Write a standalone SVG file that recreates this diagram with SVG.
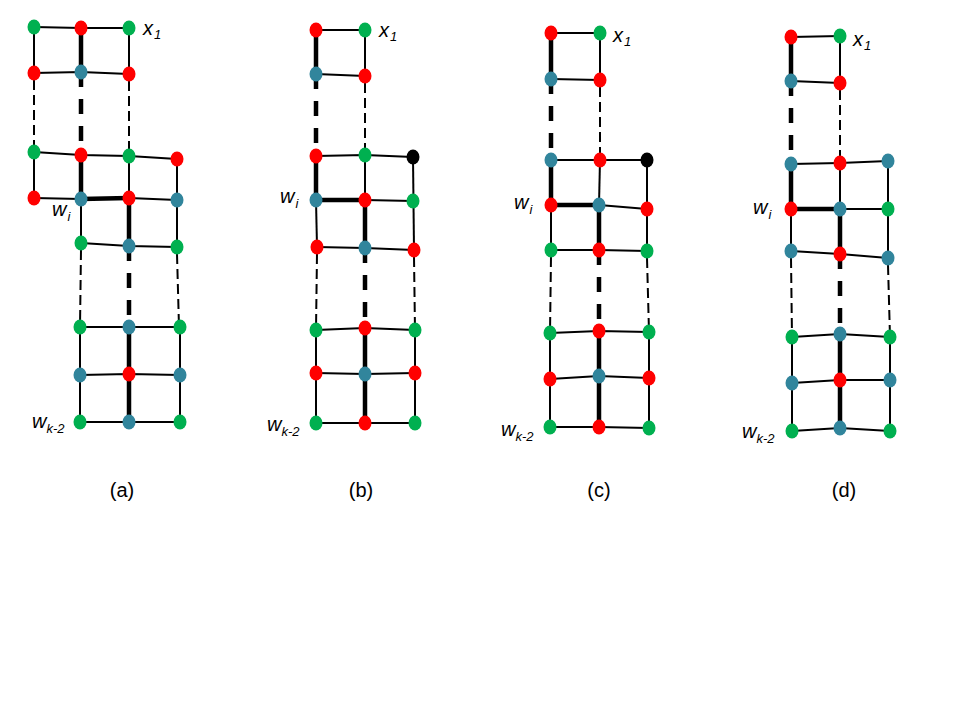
<svg xmlns="http://www.w3.org/2000/svg" width="960" height="720" viewBox="0 0 960 720">
<style>
.t{stroke:#000;stroke-width:2;fill:none}
.k{stroke:#000;stroke-width:4.5;fill:none}
.td{stroke:#000;stroke-width:2;fill:none;stroke-dasharray:10 5}
.kd{stroke:#000;stroke-width:4.5;fill:none;stroke-dasharray:15 12}
.g{fill:#00B050}
.r{fill:#FF0000}
.b{fill:#31859C}
.n{fill:#000}
ellipse{rx:6.5px;ry:7.5px}
.lab{font-family:"Liberation Sans",Arial,sans-serif;font-style:italic;font-size:20px;fill:#000}
.sub{font-size:13px}
.cap{font-family:"Liberation Sans",Arial,sans-serif;font-size:20px;fill:#000}
</style>
<rect width="960" height="720" fill="#fff"/>
<g id="connectors">
<!-- panel a -->
<polyline class="t" points="34,27 81,28 129,28"/>
<polyline class="t" points="34,73 81,72 129,74"/>
<polyline class="t" points="34,152 81,155 129,156 177,159"/>
<line class="t" x1="34" y1="198" x2="81" y2="199"/>
<line class="k" x1="81" y1="199" x2="129" y2="198"/>
<line class="t" x1="129" y1="198" x2="177" y2="200"/>
<polyline class="t" points="81,243 129,246 177,247"/>
<polyline class="t" points="80,327 129,327 180,327"/>
<polyline class="t" points="80,375 129,374 180,375"/>
<polyline class="t" points="80,422 129,422 180,422"/>
<line class="t" x1="34" y1="27" x2="34" y2="73"/>
<line class="k" x1="81" y1="28" x2="81" y2="72"/>
<line class="t" x1="129" y1="28" x2="129" y2="74"/>
<line class="td" x1="34" y1="80" x2="34" y2="152"/>
<line class="kd" x1="81" y1="72" x2="81" y2="155"/>
<line class="td" x1="129" y1="81" x2="129" y2="156"/>
<line class="t" x1="34" y1="152" x2="34" y2="198"/>
<line class="k" x1="81" y1="155" x2="81" y2="199"/>
<line class="t" x1="129" y1="156" x2="129" y2="198"/>
<line class="t" x1="177" y1="159" x2="177" y2="247"/>
<line class="t" x1="81" y1="199" x2="81" y2="243"/>
<line class="k" x1="129" y1="198" x2="129" y2="246"/>
<line class="td" x1="81" y1="250" x2="80" y2="327"/>
<line class="kd" x1="129" y1="246" x2="129" y2="327"/>
<line class="td" x1="177" y1="254" x2="179" y2="327"/>
<line class="t" x1="80" y1="327" x2="80" y2="422"/>
<line class="k" x1="129" y1="327" x2="129" y2="422"/>
<line class="t" x1="180" y1="327" x2="180" y2="422"/>
<!-- panel b -->
<line class="t" x1="316" y1="30" x2="365" y2="30"/>
<line class="t" x1="316" y1="74" x2="365" y2="76"/>
<polyline class="t" points="316,156 365,155 413,157"/>
<line class="k" x1="316" y1="200" x2="365" y2="200"/>
<line class="t" x1="365" y1="200" x2="413" y2="201"/>
<polyline class="t" points="317,247 365,248 414,250"/>
<polyline class="t" points="316,330 365,328 415,330"/>
<polyline class="t" points="316,373 365,374 415,373"/>
<polyline class="t" points="316,423 365,423 415,423"/>
<line class="k" x1="316" y1="30" x2="316" y2="74"/>
<line class="t" x1="365" y1="30" x2="365" y2="76"/>
<line class="kd" x1="316" y1="74" x2="316" y2="156"/>
<line class="td" x1="365" y1="83" x2="365" y2="155"/>
<line class="k" x1="316" y1="156" x2="316" y2="200"/>
<line class="t" x1="365" y1="155" x2="365" y2="200"/>
<line class="t" x1="413" y1="157" x2="414" y2="250"/>
<line class="t" x1="316" y1="200" x2="317" y2="247"/>
<line class="k" x1="365" y1="200" x2="365" y2="248"/>
<line class="td" x1="317" y1="254" x2="316" y2="330"/>
<line class="kd" x1="365" y1="248" x2="365" y2="328"/>
<line class="td" x1="414" y1="257" x2="415" y2="330"/>
<line class="t" x1="316" y1="330" x2="316" y2="423"/>
<line class="k" x1="365" y1="328" x2="365" y2="423"/>
<line class="t" x1="415" y1="330" x2="415" y2="423"/>
<!-- panel c -->
<line class="t" x1="551" y1="33" x2="600" y2="33"/>
<line class="t" x1="551" y1="79" x2="600" y2="80"/>
<polyline class="t" points="551,160 600,160 647,160"/>
<line class="k" x1="551" y1="205" x2="599" y2="205"/>
<line class="t" x1="599" y1="205" x2="647" y2="209"/>
<polyline class="t" points="551,250 599,250 647,251"/>
<polyline class="t" points="550,333 599,331 649,332"/>
<polyline class="t" points="550,379 599,376 649,378"/>
<polyline class="t" points="550,427 599,427 649,428"/>
<line class="k" x1="551" y1="33" x2="551" y2="79"/>
<line class="t" x1="600" y1="33" x2="600" y2="80"/>
<line class="kd" x1="551" y1="79" x2="551" y2="160"/>
<line class="td" x1="600" y1="87" x2="600" y2="160"/>
<line class="k" x1="551" y1="160" x2="551" y2="205"/>
<line class="t" x1="600" y1="160" x2="599" y2="205"/>
<line class="t" x1="647" y1="160" x2="647" y2="251"/>
<line class="t" x1="551" y1="205" x2="551" y2="250"/>
<line class="k" x1="599" y1="205" x2="599" y2="250"/>
<line class="td" x1="551" y1="257" x2="550" y2="333"/>
<line class="kd" x1="599" y1="250" x2="599" y2="331"/>
<line class="td" x1="647" y1="258" x2="649" y2="332"/>
<line class="t" x1="550" y1="333" x2="550" y2="427"/>
<line class="k" x1="599" y1="331" x2="599" y2="427"/>
<line class="t" x1="649" y1="332" x2="649" y2="428"/>
<!-- panel d -->
<line class="t" x1="791" y1="37" x2="840" y2="36"/>
<line class="t" x1="791" y1="81" x2="840" y2="83"/>
<polyline class="t" points="791,164 840,163 888,161"/>
<line class="k" x1="791" y1="209" x2="840" y2="209"/>
<line class="t" x1="840" y1="209" x2="888" y2="209"/>
<polyline class="t" points="791,251 840,254 888,258"/>
<polyline class="t" points="792,337 840,334 890,337"/>
<polyline class="t" points="792,383 840,380 890,380"/>
<polyline class="t" points="792,431 840,428 890,431"/>
<line class="k" x1="791" y1="37" x2="791" y2="81"/>
<line class="t" x1="840" y1="36" x2="840" y2="83"/>
<line class="kd" x1="791" y1="81" x2="791" y2="164"/>
<line class="td" x1="840" y1="90" x2="840" y2="163"/>
<line class="k" x1="791" y1="164" x2="791" y2="209"/>
<line class="t" x1="840" y1="163" x2="840" y2="209"/>
<line class="t" x1="888" y1="161" x2="888" y2="258"/>
<line class="t" x1="791" y1="209" x2="791" y2="251"/>
<line class="k" x1="840" y1="209" x2="840" y2="254"/>
<line class="td" x1="791" y1="258" x2="792" y2="337"/>
<line class="kd" x1="840" y1="254" x2="840" y2="334"/>
<line class="td" x1="888" y1="265" x2="890" y2="337"/>
<line class="t" x1="792" y1="337" x2="792" y2="431"/>
<line class="k" x1="840" y1="334" x2="840" y2="428"/>
<line class="t" x1="890" y1="337" x2="890" y2="431"/>
</g>
<g id="panel-a">
<g id="a-1-1"><ellipse class="g" cx="34" cy="27" rx="6.5" ry="7.5"/></g>
<g id="a-1-2"><ellipse class="r" cx="81" cy="28" rx="6.5" ry="7.5"/></g>
<g id="a-1-3"><ellipse class="g" cx="129" cy="28" rx="6.5" ry="7.5"/></g>
<g id="a-2-1"><ellipse class="r" cx="34" cy="73" rx="6.5" ry="7.5"/></g>
<g id="a-2-2"><ellipse class="b" cx="81" cy="72" rx="6.5" ry="7.5"/></g>
<g id="a-2-3"><ellipse class="r" cx="129" cy="74" rx="6.5" ry="7.5"/></g>
<g id="a-3-1"><ellipse class="g" cx="34" cy="152" rx="6.5" ry="7.5"/></g>
<g id="a-3-2"><ellipse class="r" cx="81" cy="155" rx="6.5" ry="7.5"/></g>
<g id="a-3-3"><ellipse class="g" cx="129" cy="156" rx="6.5" ry="7.5"/></g>
<g id="a-3-4"><ellipse class="r" cx="177" cy="159" rx="6.5" ry="7.5"/></g>
<g id="a-4-1"><ellipse class="r" cx="34" cy="198" rx="6.5" ry="7.5"/></g>
<g id="a-4-2"><ellipse class="b" cx="81" cy="199" rx="6.5" ry="7.5"/></g>
<g id="a-4-3"><ellipse class="r" cx="129" cy="198" rx="6.5" ry="7.5"/></g>
<g id="a-4-4"><ellipse class="b" cx="177" cy="200" rx="6.5" ry="7.5"/></g>
<g id="a-5-1"><ellipse class="g" cx="81" cy="243" rx="6.5" ry="7.5"/></g>
<g id="a-5-2"><ellipse class="b" cx="129" cy="246" rx="6.5" ry="7.5"/></g>
<g id="a-5-3"><ellipse class="g" cx="177" cy="247" rx="6.5" ry="7.5"/></g>
<g id="a-6-1"><ellipse class="g" cx="80" cy="327" rx="6.5" ry="7.5"/></g>
<g id="a-6-2"><ellipse class="b" cx="129" cy="327" rx="6.5" ry="7.5"/></g>
<g id="a-6-3"><ellipse class="g" cx="180" cy="327" rx="6.5" ry="7.5"/></g>
<g id="a-7-1"><ellipse class="b" cx="80" cy="375" rx="6.5" ry="7.5"/></g>
<g id="a-7-2"><ellipse class="r" cx="129" cy="374" rx="6.5" ry="7.5"/></g>
<g id="a-7-3"><ellipse class="b" cx="180" cy="375" rx="6.5" ry="7.5"/></g>
<g id="a-8-1"><ellipse class="g" cx="80" cy="422" rx="6.5" ry="7.5"/></g>
<g id="a-8-2"><ellipse class="b" cx="129" cy="422" rx="6.5" ry="7.5"/></g>
<g id="a-8-3"><ellipse class="g" cx="180" cy="422" rx="6.5" ry="7.5"/></g>
<text class="lab" x="143" y="35">x<tspan class="sub" dx="1" dy="4">1</tspan></text>
<text class="lab" x="52" y="216">w<tspan class="sub" dx="1" dy="5">i</tspan></text>
<text class="lab" x="32" y="428">w<tspan class="sub" dx="0" dy="5">k-2</tspan></text>
<text class="cap" x="122" y="497" text-anchor="middle">(a)</text>
</g>
<g id="panel-b">
<g id="b-1-1"><ellipse class="r" cx="316" cy="30" rx="6.5" ry="7.5"/></g>
<g id="b-1-2"><ellipse class="g" cx="365" cy="30" rx="6.5" ry="7.5"/></g>
<g id="b-2-1"><ellipse class="b" cx="316" cy="74" rx="6.5" ry="7.5"/></g>
<g id="b-2-2"><ellipse class="r" cx="365" cy="76" rx="6.5" ry="7.5"/></g>
<g id="b-3-1"><ellipse class="r" cx="316" cy="156" rx="6.5" ry="7.5"/></g>
<g id="b-3-2"><ellipse class="g" cx="365" cy="155" rx="6.5" ry="7.5"/></g>
<g id="b-3-3"><ellipse class="n" cx="413" cy="157" rx="6.5" ry="7.5"/></g>
<g id="b-4-1"><ellipse class="b" cx="316" cy="200" rx="6.5" ry="7.5"/></g>
<g id="b-4-2"><ellipse class="r" cx="365" cy="200" rx="6.5" ry="7.5"/></g>
<g id="b-4-3"><ellipse class="g" cx="413" cy="201" rx="6.5" ry="7.5"/></g>
<g id="b-5-1"><ellipse class="r" cx="317" cy="247" rx="6.5" ry="7.5"/></g>
<g id="b-5-2"><ellipse class="b" cx="365" cy="248" rx="6.5" ry="7.5"/></g>
<g id="b-5-3"><ellipse class="r" cx="414" cy="250" rx="6.5" ry="7.5"/></g>
<g id="b-6-1"><ellipse class="g" cx="316" cy="330" rx="6.5" ry="7.5"/></g>
<g id="b-6-2"><ellipse class="r" cx="365" cy="328" rx="6.5" ry="7.5"/></g>
<g id="b-6-3"><ellipse class="g" cx="415" cy="330" rx="6.5" ry="7.5"/></g>
<g id="b-7-1"><ellipse class="r" cx="316" cy="373" rx="6.5" ry="7.5"/></g>
<g id="b-7-2"><ellipse class="b" cx="365" cy="374" rx="6.5" ry="7.5"/></g>
<g id="b-7-3"><ellipse class="r" cx="415" cy="373" rx="6.5" ry="7.5"/></g>
<g id="b-8-1"><ellipse class="g" cx="316" cy="423" rx="6.5" ry="7.5"/></g>
<g id="b-8-2"><ellipse class="r" cx="365" cy="423" rx="6.5" ry="7.5"/></g>
<g id="b-8-3"><ellipse class="g" cx="415" cy="423" rx="6.5" ry="7.5"/></g>
<text class="lab" x="379" y="37">x<tspan class="sub" dx="1" dy="4">1</tspan></text>
<text class="lab" x="280" y="203">w<tspan class="sub" dx="1" dy="5">i</tspan></text>
<text class="lab" x="267" y="431">w<tspan class="sub" dx="0" dy="5">k-2</tspan></text>
<text class="cap" x="361" y="497" text-anchor="middle">(b)</text>
</g>
<g id="panel-c">
<g id="c-1-1"><ellipse class="r" cx="551" cy="33" rx="6.5" ry="7.5"/></g>
<g id="c-1-2"><ellipse class="g" cx="600" cy="33" rx="6.5" ry="7.5"/></g>
<g id="c-2-1"><ellipse class="b" cx="551" cy="79" rx="6.5" ry="7.5"/></g>
<g id="c-2-2"><ellipse class="r" cx="600" cy="80" rx="6.5" ry="7.5"/></g>
<g id="c-3-1"><ellipse class="b" cx="551" cy="160" rx="6.5" ry="7.5"/></g>
<g id="c-3-2"><ellipse class="r" cx="600" cy="160" rx="6.5" ry="7.5"/></g>
<g id="c-3-3"><ellipse class="n" cx="647" cy="160" rx="6.5" ry="7.5"/></g>
<g id="c-4-1"><ellipse class="r" cx="551" cy="205" rx="6.5" ry="7.5"/></g>
<g id="c-4-2"><ellipse class="b" cx="599" cy="205" rx="6.5" ry="7.5"/></g>
<g id="c-4-3"><ellipse class="r" cx="647" cy="209" rx="6.5" ry="7.5"/></g>
<g id="c-5-1"><ellipse class="g" cx="551" cy="250" rx="6.5" ry="7.5"/></g>
<g id="c-5-2"><ellipse class="r" cx="599" cy="250" rx="6.5" ry="7.5"/></g>
<g id="c-5-3"><ellipse class="g" cx="647" cy="251" rx="6.5" ry="7.5"/></g>
<g id="c-6-1"><ellipse class="g" cx="550" cy="333" rx="6.5" ry="7.5"/></g>
<g id="c-6-2"><ellipse class="r" cx="599" cy="331" rx="6.5" ry="7.5"/></g>
<g id="c-6-3"><ellipse class="g" cx="649" cy="332" rx="6.5" ry="7.5"/></g>
<g id="c-7-1"><ellipse class="r" cx="550" cy="379" rx="6.5" ry="7.5"/></g>
<g id="c-7-2"><ellipse class="b" cx="599" cy="376" rx="6.5" ry="7.5"/></g>
<g id="c-7-3"><ellipse class="r" cx="649" cy="378" rx="6.5" ry="7.5"/></g>
<g id="c-8-1"><ellipse class="g" cx="550" cy="427" rx="6.5" ry="7.5"/></g>
<g id="c-8-2"><ellipse class="r" cx="599" cy="427" rx="6.5" ry="7.5"/></g>
<g id="c-8-3"><ellipse class="g" cx="649" cy="428" rx="6.5" ry="7.5"/></g>
<text class="lab" x="613" y="42">x<tspan class="sub" dx="1" dy="4">1</tspan></text>
<text class="lab" x="514" y="209">w<tspan class="sub" dx="1" dy="5">i</tspan></text>
<text class="lab" x="501" y="436">w<tspan class="sub" dx="0" dy="5">k-2</tspan></text>
<text class="cap" x="599" y="497" text-anchor="middle">(c)</text>
</g>
<g id="panel-d">
<g id="d-1-1"><ellipse class="r" cx="791" cy="37" rx="6.5" ry="7.5"/></g>
<g id="d-1-2"><ellipse class="g" cx="840" cy="36" rx="6.5" ry="7.5"/></g>
<g id="d-2-1"><ellipse class="b" cx="791" cy="81" rx="6.5" ry="7.5"/></g>
<g id="d-2-2"><ellipse class="r" cx="840" cy="83" rx="6.5" ry="7.5"/></g>
<g id="d-3-1"><ellipse class="b" cx="791" cy="164" rx="6.5" ry="7.5"/></g>
<g id="d-3-2"><ellipse class="r" cx="840" cy="163" rx="6.5" ry="7.5"/></g>
<g id="d-3-3"><ellipse class="b" cx="888" cy="161" rx="6.5" ry="7.5"/></g>
<g id="d-4-1"><ellipse class="r" cx="791" cy="209" rx="6.5" ry="7.5"/></g>
<g id="d-4-2"><ellipse class="b" cx="840" cy="209" rx="6.5" ry="7.5"/></g>
<g id="d-4-3"><ellipse class="g" cx="888" cy="209" rx="6.5" ry="7.5"/></g>
<g id="d-5-1"><ellipse class="b" cx="791" cy="251" rx="6.5" ry="7.5"/></g>
<g id="d-5-2"><ellipse class="r" cx="840" cy="254" rx="6.5" ry="7.5"/></g>
<g id="d-5-3"><ellipse class="b" cx="888" cy="258" rx="6.5" ry="7.5"/></g>
<g id="d-6-1"><ellipse class="g" cx="792" cy="337" rx="6.5" ry="7.5"/></g>
<g id="d-6-2"><ellipse class="b" cx="840" cy="334" rx="6.5" ry="7.5"/></g>
<g id="d-6-3"><ellipse class="g" cx="890" cy="337" rx="6.5" ry="7.5"/></g>
<g id="d-7-1"><ellipse class="b" cx="792" cy="383" rx="6.5" ry="7.5"/></g>
<g id="d-7-2"><ellipse class="r" cx="840" cy="380" rx="6.5" ry="7.5"/></g>
<g id="d-7-3"><ellipse class="b" cx="890" cy="380" rx="6.5" ry="7.5"/></g>
<g id="d-8-1"><ellipse class="g" cx="792" cy="431" rx="6.5" ry="7.5"/></g>
<g id="d-8-2"><ellipse class="b" cx="840" cy="428" rx="6.5" ry="7.5"/></g>
<g id="d-8-3"><ellipse class="g" cx="890" cy="431" rx="6.5" ry="7.5"/></g>
<text class="lab" x="853" y="46">x<tspan class="sub" dx="1" dy="4">1</tspan></text>
<text class="lab" x="753" y="214">w<tspan class="sub" dx="1" dy="5">i</tspan></text>
<text class="lab" x="742" y="438">w<tspan class="sub" dx="0" dy="5">k-2</tspan></text>
<text class="cap" x="844" y="497" text-anchor="middle">(d)</text>
</g>
</svg>
